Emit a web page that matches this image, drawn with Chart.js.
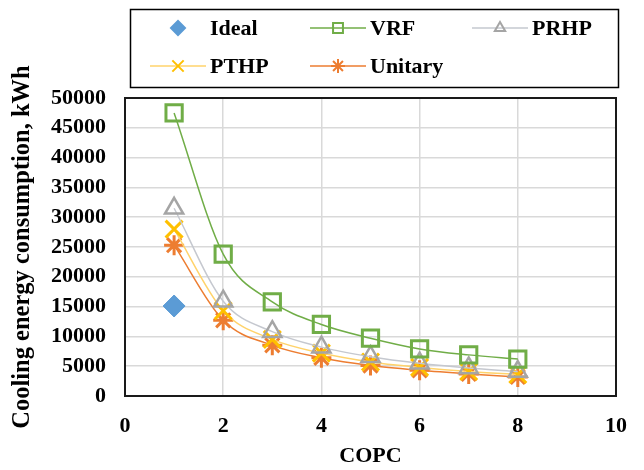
<!DOCTYPE html>
<html>
<head>
<meta charset="utf-8">
<script src="https://cdn.jsdelivr.net/npm/chart.js@4.4.0/dist/chart.umd.min.js"></script>
<style>
    html, body { margin: 0; padding: 0; background: #fff; }
    #wrap { width: 644px; height: 470px; position: relative; }
</style>
</head>
<body>
<div id="wrap"><canvas id="copcChart" width="644" height="470"></canvas></div>
<script>
// values
const copc = [1, 2, 3, 4, 5, 6, 7, 8];
const idealX = [1];
const ideal = [15100];
const vrf = [47500, 23800, 15800, 12000, 9700, 7900, 6900, 6200];
const prhp = [31500, 15900, 10800, 8200, 6600, 5500, 4700, 4100];
const pthp = [28000, 14300, 9500, 7200, 5700, 4800, 4100, 3600];
const unitary = [25300, 12700, 8500, 6400, 5100, 4300, 3700, 3200];

const xTicks = [0, 2, 4, 6, 8, 10];
const yMax = 50000;
const yStep = 5000;

const FONT = '"Liberation Serif", "Times New Roman", serif';

function toPoints(xs, ys) {
    return ys.map((y, i) => ({ x: xs[i], y: y }));
}

// legend slots: [row, col]
const legendSlots = {
    'Ideal': [0, 0],
    'VRF': [0, 1],
    'PRHP': [0, 2],
    'PTHP': [1, 0],
    'Unitary': [1, 1]
};

const boxLegend = {
    id: 'boxLegend',
    afterDraw(chart) {
        const ctx = chart.ctx;
        const colX = [150, 310, 472];
        const rowY = [28, 66];
        const lineLen = 56;

        ctx.save();
        ctx.strokeStyle = '#000';
        ctx.lineWidth = 1.5;
        ctx.strokeRect(130.5, 9.5, 488, 78);

        chart.data.datasets.forEach(ds => {
            const slot = legendSlots[ds.label];
            if (!slot) return;
            const x0 = colX[slot[1]];
            const y = rowY[slot[0]];
            if (ds.showLine) {
                ctx.strokeStyle = ds.borderColor;
                ctx.lineWidth = 1.5;
                ctx.beginPath();
                ctx.moveTo(x0, y);
                ctx.lineTo(x0 + lineLen, y);
                ctx.stroke();
            }
            ctx.strokeStyle = ds.pointBorderColor;
            ctx.fillStyle = ds.pointBackgroundColor;
            ctx.lineWidth = 2;
            Chart.helpers.drawPoint(ctx, {
                pointStyle: ds.pointStyle,
                radius: ds.legendRadius,
                borderWidth: 2
            }, x0 + lineLen / 2, y);

            ctx.fillStyle = '#000';
            ctx.font = 'bold 22px ' + FONT;
            ctx.textAlign = 'left';
            ctx.textBaseline = 'middle';
            ctx.fillText(ds.label, x0 + lineLen + 4, y + 1);
        });
        ctx.restore();
    }
};

const plotFrame = {
    id: 'plotFrame',
    afterDatasetsDraw(chart) {
        const a = chart.chartArea;
        const ctx = chart.ctx;
        ctx.save();
        ctx.strokeStyle = '#1a1a1a';
        ctx.lineWidth = 2;
        ctx.strokeRect(a.left, a.top, a.right - a.left, a.bottom - a.top);
        ctx.restore();
    }
};

const config = {
    type: 'scatter',
    data: {
        datasets: [
            {
                label: 'Ideal',
                data: toPoints(idealX, ideal),
                showLine: false,
                pointStyle: 'rectRot',
                pointRadius: 11,
                legendRadius: 7,
                pointBackgroundColor: '#5B9BD5',
                pointBorderColor: '#5B9BD5',
                pointBorderWidth: 1,
                borderColor: '#5B9BD5'
            },
            {
                label: 'VRF',
                data: toPoints(copc, vrf),
                showLine: true,
                borderColor: '#70AD47',
                borderWidth: 1.5,
                cubicInterpolationMode: 'monotone',
                pointStyle: 'rect',
                pointRadius: 11.5,
                legendRadius: 7,
                pointBackgroundColor: 'rgba(255,255,255,0)',
                pointBorderColor: '#70AD47',
                pointBorderWidth: 3
            },
            {
                label: 'PRHP',
                data: toPoints(copc, prhp),
                showLine: true,
                borderColor: '#C5C8CF',
                borderWidth: 1.5,
                cubicInterpolationMode: 'monotone',
                pointStyle: 'triangle',
                pointRadius: 10.5,
                legendRadius: 6,
                pointBackgroundColor: 'rgba(255,255,255,0)',
                pointBorderColor: '#A5A5A5',
                pointBorderWidth: 2.5
            },
            {
                label: 'PTHP',
                data: toPoints(copc, pthp),
                showLine: true,
                borderColor: '#FFD36B',
                borderWidth: 1.5,
                cubicInterpolationMode: 'monotone',
                pointStyle: 'crossRot',
                pointRadius: 12,
                legendRadius: 8,
                pointBackgroundColor: '#FFC000',
                pointBorderColor: '#FFC000',
                pointBorderWidth: 3
            },
            {
                label: 'Unitary',
                data: toPoints(copc, unitary),
                showLine: true,
                borderColor: '#ED7D31',
                borderWidth: 1.5,
                cubicInterpolationMode: 'monotone',
                pointStyle: 'star',
                pointRadius: 10,
                legendRadius: 7,
                pointBackgroundColor: '#ED7D31',
                pointBorderColor: '#ED7D31',
                pointBorderWidth: 3
            }
        ]
    },
    options: {
        responsive: false,
        animation: false,
        layout: { padding: { top: 98, right: 24, bottom: 0, left: 8 } },
        plugins: {
            legend: { display: false },
            tooltip: { enabled: false }
        },
        scales: {
            x: {
                type: 'linear',
                min: 0,
                max: 10,
                afterBuildTicks: (scale) => {
                    scale.ticks = xTicks.map(v => ({ value: v }));
                },
                grid: { color: '#D9D9D9', lineWidth: 1.5, drawTicks: false },
                border: { display: false },
                ticks: {
                    color: '#000',
                    padding: 17,
                    maxRotation: 0,
                    font: { family: FONT, size: 22, weight: 'bold' }
                },
                title: {
                    display: true,
                    text: 'COPC',
                    color: '#000',
                    padding: { top: 0, bottom: 0 },
                    font: { family: FONT, size: 22, weight: 'bold' }
                },
                afterFit: (scale) => { scale.height = 74; }
            },
            y: {
                min: 0,
                max: yMax,
                ticks: {
                    stepSize: yStep,
                    color: '#000',
                    padding: 19,
                    callback: (v) => String(v),
                    font: { family: FONT, size: 22, weight: 'bold' }
                },
                grid: { color: '#D9D9D9', lineWidth: 1.5, drawTicks: false },
                border: { display: false },
                title: {
                    display: true,
                    text: 'Cooling energy consumption, kWh',
                    color: '#000',
                    padding: { top: 0, bottom: 6 },
                    font: { family: FONT, size: 24.5, weight: 'bold' }
                },
                afterFit: (scale) => { scale.width = 117; }
            }
        }
    },
    plugins: [plotFrame, boxLegend]
};

const ctx = document.getElementById('copcChart').getContext('2d');
const copcChart = new Chart(ctx, config);
</script>
</body>
</html>
